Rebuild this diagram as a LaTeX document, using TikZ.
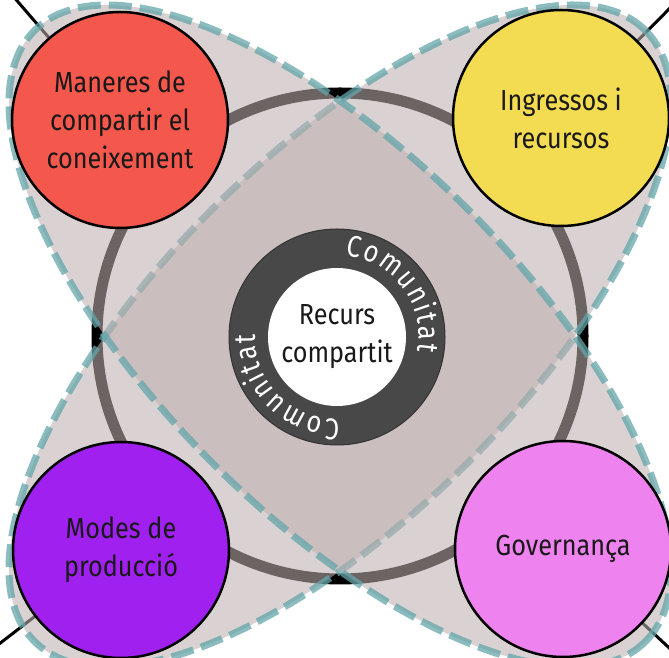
\documentclass[tikz,border=0pt]{standalone}
\usepackage{fontspec}
\setmainfont[FakeStretch=0.87]{Fira Sans}
\newfontfamily\ringfont[FakeStretch=0.85]{Fira Sans}
\usetikzlibrary{decorations.text}
\definecolor{kred}{RGB}{244,87,75}
\definecolor{kyellow}{RGB}{243,219,82}
\definecolor{kpurple}{RGB}{160,32,240}
\definecolor{kviolet}{RGB}{238,130,238}
\definecolor{lensfill}{RGB}{190,175,175}
\definecolor{lensedge}{RGB}{100,165,170}
\definecolor{ringdark}{RGB}{72,72,72}
\begin{document}
\begin{tikzpicture}[x=1pt,y=1pt,
  bubble/.style={circle, draw=black, line width=2.5pt, minimum size=216pt, inner sep=0pt,
    align=center, font=\fontsize{29}{38}\selectfont, text=black!90},
  lens/.style={fill=lensfill, fill opacity=0.57, draw=lensedge, draw opacity=0.75,
    line width=7pt, dash pattern=on 23pt off 8pt},
  spoke/.style={draw=black, line width=3pt},
  bigring/.style={draw=black, line width=11pt},
]
\useasboundingbox (0,0) rectangle (669,658);
\clip (0,0) rectangle (669,658);
\coordinate (O) at (340,322);
\coordinate (kc) at (120,538);
\coordinate (yc) at (561,540);
\coordinate (pc) at (121,108);
\coordinate (vc) at (563,109);
\coordinate (tlend) at (6,670);
\coordinate (trend) at (680,660);
\coordinate (blend) at (-10,7);
\coordinate (brend) at (680,0);
% spokes to the corners
\draw[spoke] (kc) -- (tlend);
\draw[spoke] (yc) -- (trend);
\draw[spoke] (pc) -- (blend);
\draw[spoke] (vc) -- (brend);
% big ring
\draw[bigring] (O) circle[radius=243];
% lenses
\draw[lens, rotate around={45:(O)}] (O) ellipse[x radius=432, y radius=180];
\draw[lens, rotate around={-45:(O)}] (O) ellipse[x radius=432, y radius=180];
% corner bubbles
\node[bubble, fill=kred] (k) at (kc) {Maneres de\\compartir el\\coneixement};
\node[bubble, fill=kyellow] (y) at (yc) {Ingressos i\\recursos};
\node[bubble, fill=kpurple] (p) at (pc) {Modes de\\producció};
\node[bubble, fill=kviolet] (v) at (vc) {Governança};
% centre
\node[circle, fill=ringdark, draw=black!80, line width=1pt, minimum size=216pt, inner sep=0pt] (c) at (337,321) {};
\node[circle, fill=white, minimum size=138pt, inner sep=0pt, align=center,
  font=\fontsize{29}{38}\selectfont, text=black!90] (r) at (c.center) {Recurs\\compartit};
\path[decorate, decoration={text along path, text align=fit to path,
  text={|\color{white}\ringfont\fontsize{30}{30}\selectfont|Comunitat}}]
  (c.center) ++(84:82) arc[start angle=84, end angle=-10, radius=82];
\path[decorate, decoration={text along path, text align=fit to path,
  text={|\color{white}\ringfont\fontsize{30}{30}\selectfont|Comunitat}}]
  (c.center) ++(272:82) arc[start angle=272, end angle=178, radius=82];
\end{tikzpicture}
\end{document}
